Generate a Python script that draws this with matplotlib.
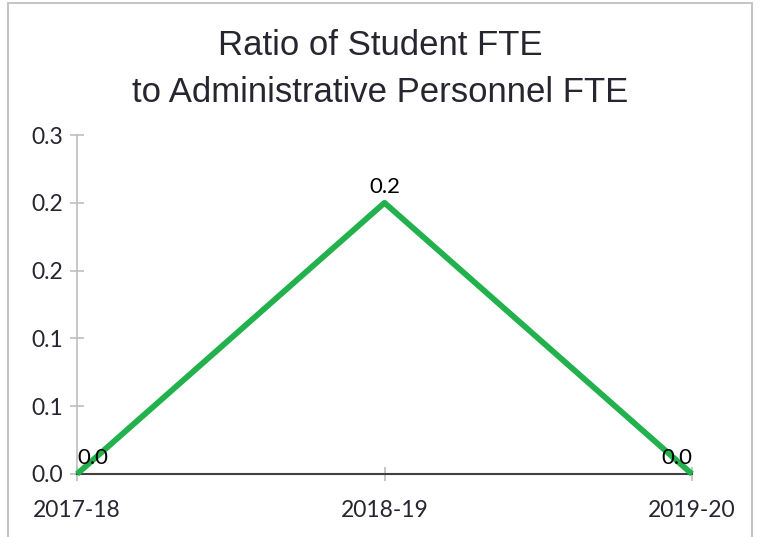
import matplotlib
matplotlib.use("Agg")
import matplotlib.pyplot as plt
from matplotlib.patches import Rectangle

categories = ["2017-18", "2018-19", "2019-20"]
values = [0.0, 0.24, 0.0]
data_labels = ["0.0", "0.2", "0.0"]
y_ticks = [0.0, 0.06, 0.12, 0.18, 0.24, 0.30]
y_tick_labels = ["0.0", "0.1", "0.1", "0.2", "0.2", "0.3"]
title = "Ratio of Student FTE\nto Administrative Personnel FTE"

label_font = "Lato"
fig = plt.figure(figsize=(7.6, 5.37), dpi=100)
ax = fig.add_axes([77/760, 1-474/537, (692-77)/760, (474-135)/537])

x = list(range(len(categories)))
ax.plot(x, values, color="#22b14c", lw=4.2, solid_capstyle="butt", clip_on=False, zorder=3)
aligns = ["left", "center", "right"]
for xi, v, lab, ha in zip(x, values, data_labels, aligns):
    ax.annotate(lab, (xi, v), xytext=(0, 4.5), textcoords="offset points",
                ha=ha, va="bottom", fontsize=16, family=label_font, color="black", zorder=4)

ax.set_xlim(0, 2)
ax.set_ylim(0, 0.30)
ax.set_xticks(x)
ax.set_xticklabels(categories)
ax.set_yticks(y_ticks)
ax.set_yticklabels(y_tick_labels)
for lab in ax.get_xticklabels() + ax.get_yticklabels():
    lab.set_family(label_font)
    lab.set_fontsize(16.5)
    lab.set_color("#262630")

ax.tick_params(axis="y", direction="inout", length=10, width=1.2, color="#bfbfbf", pad=5)
ax.tick_params(axis="x", direction="inout", length=10, width=1.2, color="#bfbfbf", pad=14)
for s in ["top", "right"]:
    ax.spines[s].set_visible(False)
ax.spines["left"].set_color("#bfbfbf")
ax.spines["left"].set_linewidth(1.2)
ax.spines["bottom"].set_color("#404040")
ax.spines["bottom"].set_linewidth(1.5)

fig.text(0.5, 1-69/537, title, ha="center", va="center", fontsize=25,
         family="Liberation Sans", color="#262630", linespacing=1.55)

fig.patches.append(Rectangle((8/760, -0.01), (752-8)/760, 1-2.5/537+0.01, transform=fig.transFigure,
                             fill=False, edgecolor="#c0c0c0", lw=1.3))

fig.savefig("out.png", dpi=100)
